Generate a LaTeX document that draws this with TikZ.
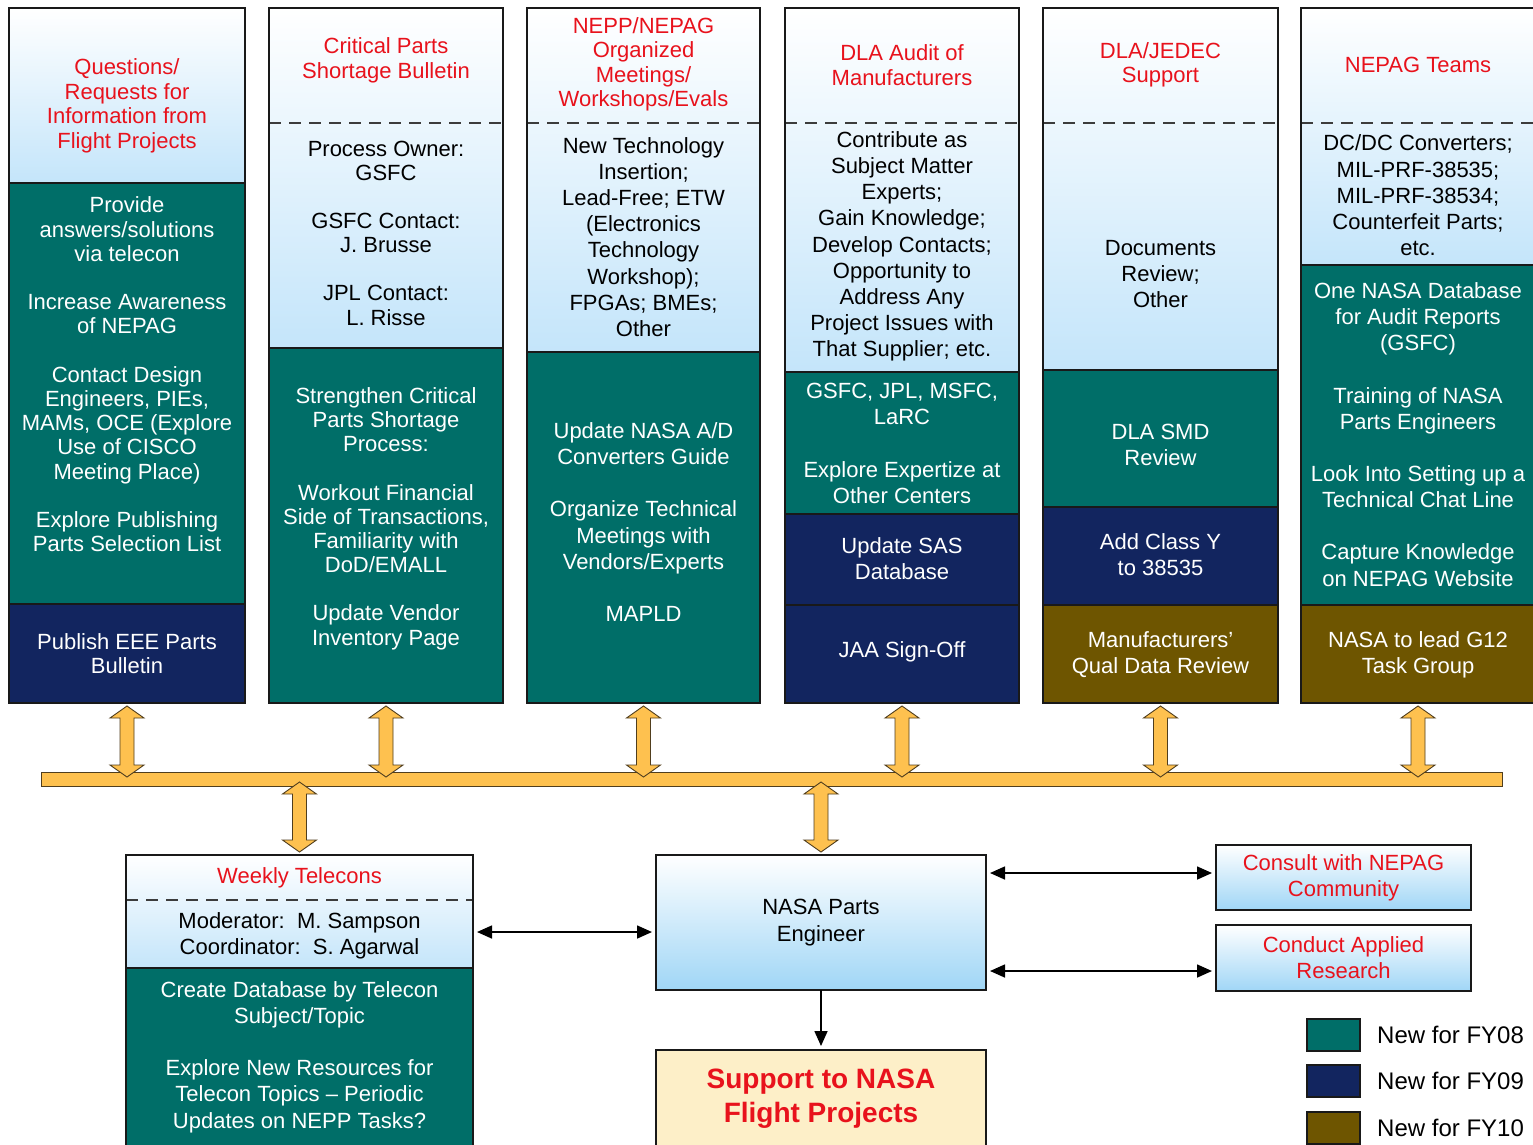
\documentclass[tikz,border=0pt]{standalone}
\usepackage{fontspec}
\setmainfont{Liberation Sans}
\usetikzlibrary{calc,arrows.meta}
\definecolor{tealc}{RGB}{0,110,104}
\definecolor{navyc}{RGB}{18,37,95}
\definecolor{brownc}{RGB}{110,85,0}
\definecolor{redc}{RGB}{232,18,28}
\definecolor{lbend}{RGB}{196,229,250}
\definecolor{lbdeep}{RGB}{160,214,246}
\definecolor{creamc}{RGB}{253,239,200}
\definecolor{orangec}{RGB}{254,193,79}
\definecolor{orangeline}{RGB}{80,62,30}
\definecolor{bordc}{RGB}{25,25,25}
\newcommand\oarrow[2]{%
\draw[oarr] let \p1=#1, \p2=#2 in
 (\x1,\y1) -- (\x1+17pt,\y1-12pt) -- (\x1+7pt,\y1-12pt) -- (\x1+7pt,\y2+12pt) -- (\x1+17pt,\y2+12pt) -- (\x1,\y2) -- (\x1-17pt,\y2+12pt) -- (\x1-7pt,\y2+12pt) -- (\x1-7pt,\y1-12pt) -- (\x1-17pt,\y1-12pt) -- cycle;}
\begin{document}
\begin{tikzpicture}[x=1pt,y=-1pt,
  lg/.style={top color=white,bottom color=lbend},
  sep/.style={draw=bordc,line width=1.6pt},
  dsh/.style={draw=bordc!85,line width=1.4pt,dash pattern=on 12pt off 8pt},
  box/.style={draw=bordc,line width=1.8pt,inner sep=0pt,outer sep=0pt},
  ttl/.style={text=redc,align=center,font=\fontsize{22}{24.5}\selectfont,yshift=-2.5pt},
  blk/.style={text=black,align=center,font=\fontsize{22}{24.2}\selectfont},
  wht/.style={text=white,align=center,font=\fontsize{22}{24.2}\selectfont},
  blkw/.style={text=black,align=center,font=\fontsize{22}{26.2}\selectfont},
  whtw/.style={text=white,align=center,font=\fontsize{22}{26.2}\selectfont},
  oarr/.style={fill=orangec,draw=orangeline,line width=0.9pt,line join=miter},
  barst/.style={fill=orangec,draw=orangeline,line width=0.9pt,inner sep=0pt,outer sep=0pt},
  bla/.style={draw=black,line width=1.6pt,{Triangle[length=15pt,width=13pt]}-{Triangle[length=15pt,width=13pt]},shorten <=4pt,shorten >=4pt},
  blone/.style={draw=black,line width=1.6pt,-{Triangle[length=15pt,width=13pt]},shorten >=4pt},
  leg/.style={draw=bordc,line width=1.6pt,minimum width=53pt,minimum height=32pt,inner sep=0pt},
  legt/.style={anchor=west,text=black,font=\fontsize{24}{28}\selectfont,inner sep=0pt}
]
\clip (0,0) rectangle (1533,1144);
\fill[white] (0,0) rectangle (1533,1144);

% ---------- Column 1
\shade[lg] (9,8) rectangle (245,183);
\fill[tealc] (9,183) rectangle (245,604);
\fill[navyc] (9,604) rectangle (245,703);
\draw[sep] (9,183) -- (245,183);
\draw[sep] (9,604) -- (245,604);
\node[box,minimum width=236pt,minimum height=695pt] (c1) at (127,355.5) {};
% ---------- Column 2
\shade[lg] (269,8) rectangle (503,348);
\fill[tealc] (269,348) rectangle (503,703);
\draw[dsh] (269,123) -- (503,123);
\draw[sep] (269,348) -- (503,348);
\node[box,minimum width=234pt,minimum height=695pt] (c2) at (386,355.5) {};
% ---------- Column 3
\shade[lg] (527,8) rectangle (760,352);
\fill[tealc] (527,352) rectangle (760,703);
\draw[dsh] (527,123) -- (760,123);
\draw[sep] (527,352) -- (760,352);
\node[box,minimum width=233pt,minimum height=695pt] (c3) at (643.5,355.5) {};
% ---------- Column 4
\shade[lg] (785,8) rectangle (1019,372);
\fill[tealc] (785,372) rectangle (1019,514);
\fill[navyc] (785,514) rectangle (1019,703);
\draw[dsh] (785,123) -- (1019,123);
\draw[sep] (785,372) -- (1019,372);
\draw[sep] (785,514) -- (1019,514);
\draw[sep] (785,605) -- (1019,605);
\node[box,minimum width=234pt,minimum height=695pt] (c4) at (902,355.5) {};
% ---------- Column 5
\shade[lg] (1043,8) rectangle (1278,370);
\fill[tealc] (1043,370) rectangle (1278,507);
\fill[navyc] (1043,507) rectangle (1278,605);
\fill[brownc] (1043,605) rectangle (1278,703);
\draw[dsh] (1043,123) -- (1278,123);
\draw[sep] (1043,370) -- (1278,370);
\draw[sep] (1043,507) -- (1278,507);
\draw[sep] (1043,605) -- (1278,605);
\node[box,minimum width=235pt,minimum height=695pt] (c5) at (1160.5,355.5) {};
% ---------- Column 6
\shade[lg] (1301,8) rectangle (1535,265);
\fill[tealc] (1301,265) rectangle (1535,605);
\fill[brownc] (1301,605) rectangle (1535,703);
\draw[dsh] (1301,123) -- (1535,123);
\draw[sep] (1301,265) -- (1535,265);
\draw[sep] (1301,605) -- (1535,605);
\node[box,minimum width=234pt,minimum height=695pt] (c6) at (1418,355.5) {};

% ---------- Column texts
\node[ttl] (h1) at (127,103.5) {Questions/\\Requests for\\Information from\\Flight Projects};
\node[wht] (t1a) at (127,374.5) {Provide\\answers/solutions\\via telecon\\[24.2pt]Increase Awareness\\of NEPAG\\[24.2pt]Contact Design\\Engineers, PIEs,\\MAMs, OCE (Explore\\Use of CISCO\\Meeting Place)\\[24.2pt]Explore Publishing\\Parts Selection List};
\node[wht] (t1b) at (127,654) {Publish EEE Parts\\Bulletin};

\node[ttl] (h2) at (386,58) {Critical Parts\\Shortage Bulletin};
\node[blk] (t2a) at (386,233) {Process Owner:\\GSFC\\[24pt]GSFC Contact:\\J. Brusse\\[24pt]JPL Contact:\\L. Risse};
\node[wht] (t2b) at (386,518.5) {Strengthen Critical\\Parts Shortage\\Process:\\[24pt]Workout Financial\\Side of Transactions,\\Familiarity with\\DoD/EMALL\\[24pt]Update Vendor\\Inventory Page};

\node[ttl] (h3) at (643.5,62) {NEPP/NEPAG\\Organized\\Meetings/\\Workshops/Evals};
\node[blkw] (t3a) at (643.5,237) {New Technology\\Insertion;\\Lead-Free; ETW\\(Electronics\\Technology\\Workshop);\\FPGAs; BMEs;\\Other};
\node[whtw] (t3b) at (643.5,522) {Update NASA A/D\\Converters Guide\\[26pt]Organize Technical\\Meetings with\\Vendors/Experts\\[26pt]MAPLD};

\node[ttl] (h4) at (902,62.5) {DLA Audit of\\Manufacturers};
\node[blkw] (t4a) at (902,246.5) {Contribute as\\Subject Matter\\Experts;\\Gain Knowledge;\\Develop Contacts;\\Opportunity to\\Address Any\\Project Issues with\\That Supplier; etc.};
\node[whtw] (t4b) at (902,443.5) {GSFC, JPL, MSFC,\\LaRC\\[26pt]Explore Expertize at\\Other Centers};
\node[whtw] (t4c) at (902,558.5) {Update SAS\\Database};
\node[whtw] (t4d) at (902,652) {JAA Sign-Off};

\node[ttl] (h5) at (1160.5,62.5) {DLA/JEDEC\\Support};
\node[blkw] (t5a) at (1160.5,274) {Documents\\Review;\\Other};
\node[whtw] (t5b) at (1160.5,445) {DLA SMD\\Review};
\node[whtw] (t5c) at (1160.5,555) {Add Class Y\\to 38535};
\node[whtw] (t5d) at (1160.5,655) {Manufacturers’\\Qual Data Review};

\node[ttl] (h6) at (1418,62) {NEPAG Teams};
\node[blkw] (t6a) at (1418,195.5) {DC/DC Converters;\\MIL-PRF-38535;\\MIL-PRF-38534;\\Counterfeit Parts;\\etc.};
\node[whtw] (t6b) at (1418,434.5) {One NASA Database\\for Audit Reports\\(GSFC)\\[26pt]Training of NASA\\Parts Engineers\\[26pt]Look Into Setting up a\\Technical Chat Line\\[26pt]Capture Knowledge\\on NEPAG Website};
\node[whtw] (t6c) at (1418,655) {NASA to lead G12\\Task Group};

% ---------- Bar
\node[barst,minimum width=1461pt,minimum height=14pt] (bar) at (771.5,779) {};

% ---------- Weekly telecons
\shade[lg] (126,855) rectangle (473,968);
\fill[tealc] (126,968) rectangle (473,1150);
\draw[dsh] (126,900) -- (473,900);
\draw[sep] (126,968) -- (473,968);
\node[box,minimum width=347pt,minimum height=295pt] (wt) at (299.5,1002.5) {};
\node[ttl] (wth) at (299.5,875) {Weekly Telecons};
\node[blkw] (wta) at (299.5,935.5) {Moderator:\ \ M. Sampson\\Coordinator:\ \ S. Agarwal};
\node[whtw] (wtb) at (299.5,1057) {Create Database by Telecon\\Subject/Topic\\[26pt]Explore New Resources for\\Telecon Topics – Periodic\\Updates on NEPP Tasks?};

% ---------- NASA Parts Engineer and side boxes
\node[box,top color=white,bottom color=lbdeep,minimum width=330pt,minimum height=135pt,align=center,font=\fontsize{22}{27}\selectfont] (npe) at (821,922.5) {NASA Parts\\Engineer};
\node[box,top color=white,bottom color=lbdeep,minimum width=255pt,minimum height=65pt,align=center,text=redc,font=\fontsize{22}{26}\selectfont] (cons) at (1343.5,877.5) {Consult with NEPAG\\Community};
\node[box,top color=white,bottom color=lbdeep,minimum width=255pt,minimum height=66pt,align=center,text=redc,font=\fontsize{22}{26}\selectfont] (cond) at (1343.5,958) {Conduct Applied\\Research};
\node[box,fill=creamc,minimum width=330pt,minimum height=100pt] (sup) at (821,1100) {};
\node[text=redc,align=center,font=\bfseries\fontsize{28}{34}\selectfont] (supt) at (821,1098.5) {Support to NASA\\Flight Projects};

% ---------- Black arrows
\coordinate (ya) at (0,932);
\coordinate (yb) at (0,873);
\coordinate (yc) at (0,971);
\draw[bla] (wt.east |- ya) -- (npe.west |- ya);
\draw[bla] (npe.east |- yb) -- (cons.west |- yb);
\draw[bla] (npe.east |- yc) -- (cond.west |- yc);
\draw[blone] (npe.south) -- (sup.north);

% ---------- Orange double arrows
\foreach \c in {c1,c2,c3,c4,c5,c6}{
  \oarrow{($(\c.south)+(0,-3pt)$)}{($(\c.south |- bar.north)+(0,-5pt)$)}
}
\oarrow{($(wt.north |- bar.south)+(0,4pt)$)}{($(wt.north)+(0,3pt)$)}
\oarrow{($(npe.north |- bar.south)+(0,4pt)$)}{($(npe.north)+(0,3pt)$)}

% ---------- Legend
\node[leg,fill=tealc] (l1) at (1333.5,1035) {};
\node[leg,fill=navyc] (l2) at (1333.5,1081) {};
\node[leg,fill=brownc] (l3) at (1333.5,1128) {};
\node[legt] (l1t) at (1377,1035) {New for FY08};
\node[legt] (l2t) at (1377,1081) {New for FY09};
\node[legt] (l3t) at (1377,1128) {New for FY10};
\end{tikzpicture}
\end{document}
